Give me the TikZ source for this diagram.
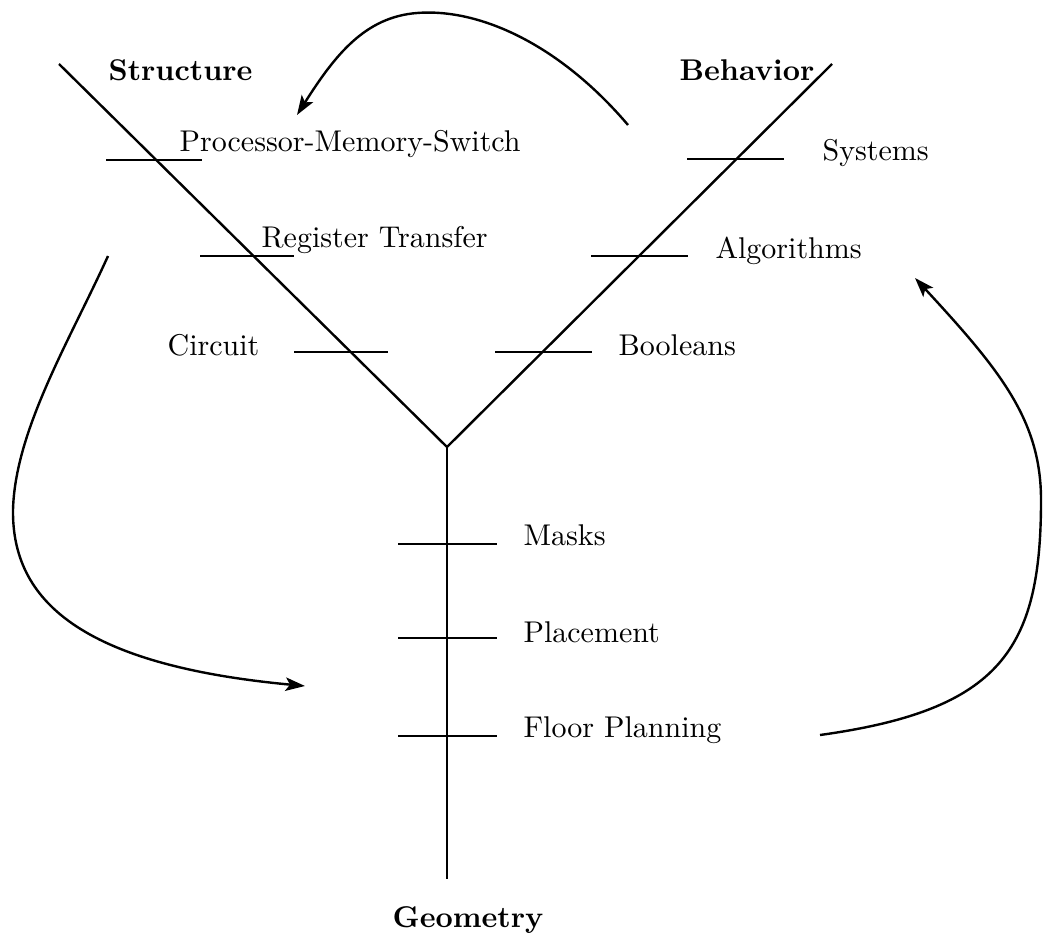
\documentclass[tikz,border=0pt]{standalone}
\usetikzlibrary{arrows.meta}

\begin{document}
\begin{tikzpicture}[
  x=0.3333pt, y=-0.3333pt,
  axis/.style={line width=0.8pt},
  tick/.style={line width=0.8pt},
  lbl/.style={anchor=base west,inner sep=0pt},
  head/.style={lbl,font=\bfseries},
  flow/.style={line width=0.8pt,-{Stealth[length=6.5pt,width=4.5pt,inset=1.5pt]}},
]
\useasboundingbox (0,0) rectangle (1044,941);

% the Y of the three domains
\coordinate (apex) at (447,447);
\coordinate (strEnd) at (59,64);
\coordinate (behEnd) at (832,64);
\coordinate (geoEnd) at (447,879);
\draw[axis] (strEnd) -- (apex) -- (behEnd);
\draw[axis] (apex) -- (geoEnd);

% level marks on each arm
\foreach \xa/\xb/\y in {106/202/160, 200/294/256, 294/388/352,
                        687/784/159, 591/688/256, 495/592/352,
                        398/497/544, 398/497/638, 398/497/736}
  \draw[tick] (\xa,\y) -- (\xb,\y);

\node[head] (structure) at (108,80) {Structure};
\node[head] (behavior) at (679,80) {Behavior};
\node[head,anchor=base] (geometry) at (468,927) {Geometry};

\node[lbl] (pms) at (179,151) {Processor-Memory-Switch};
\node[lbl] (regtr) at (261,247) {Register Transfer};
\node[lbl] (circuit) at (167,355) {Circuit};
\node[lbl] (systems) at (822,161) {Systems};
\node[lbl] (algos) at (715,258) {Algorithms};
\node[lbl] (bools) at (618,355) {Booleans};
\node[lbl] (masks) at (523,545) {Masks};
\node[lbl] (placement) at (523,642) {Placement};
\node[lbl] (floorplan) at (523,737) {Floor Planning};

% the round trip between the domains
\coordinate (topA) at (628,125);
\coordinate (topB) at (297,115);
\coordinate (leftA) at (108,256);
\coordinate (leftB) at (305,686);
\coordinate (rightA) at (820,735);
\coordinate (rightB) at (915,278);
\draw[flow] (topA) .. controls (560,45) and (480,8) .. (417,13)
                   .. controls (365,17) and (335,55) .. (topB);
\draw[flow] (leftA) .. controls (70,340) and (15,430) .. (13,510)
                    .. controls (12,600) and (80,665) .. (leftB);
\draw[flow] (rightA) .. controls (1000,710) and (1041,650) .. (1041,500)
                     .. controls (1041,420) and (1000,370) .. (rightB);
\end{tikzpicture}
\end{document}
